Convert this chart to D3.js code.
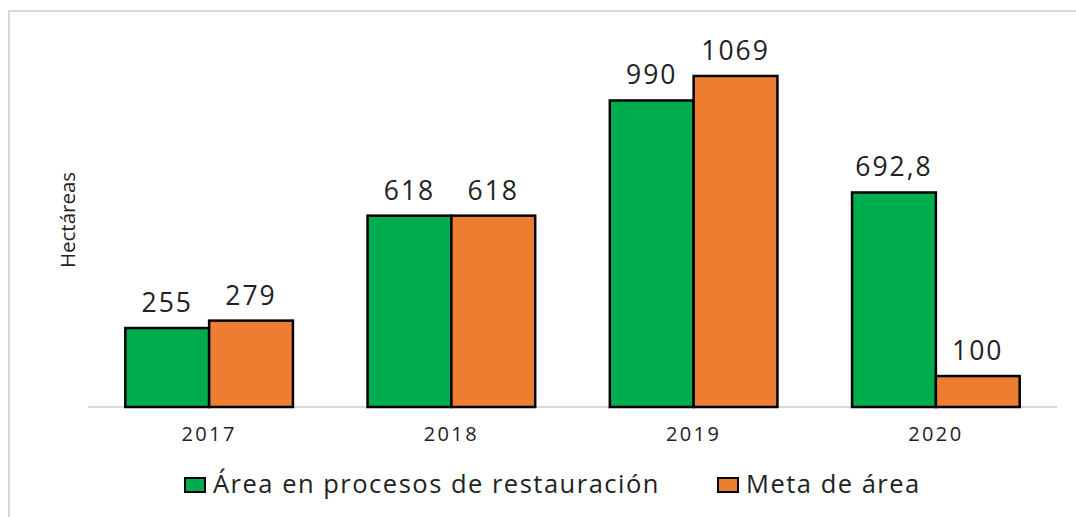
<!DOCTYPE html>
<html>
<head>
<meta charset="utf-8">
<script src="https://cdn.jsdelivr.net/npm/d3@7"></script>
<style>
  body { margin: 0; background: #fff; }
  text { font-family: "Open Sans", sans-serif; fill: #222; }
</style>
</head>
<body>
<div id="chart"></div>
<script>
// data
const years = ["2017", "2018", "2019", "2020"];
const seriesNames = ["Área en procesos de restauración", "Meta de área"];
const restauracion = [255, 618, 990, 692.8];
const meta = [279, 618, 1069, 100];
const colors = ["#00ad4e", "#ed7d31"];

const width = 1076, height = 517;
const svg = d3.select("#chart").append("svg")
    .attr("width", width)
    .attr("height", height);

// light frame (left + top only visible)
svg.append("path")
    .attr("d", `M9,${height} V11 H${width}`)
    .attr("fill", "none")
    .attr("stroke", "#d9d9d9")
    .attr("stroke-width", 2);

const baseY = 407;
const x0 = d3.scaleBand().domain(years).range([88, 1057]).paddingInner(0.308).paddingOuter(0.154);
const x1 = d3.scaleBand().domain([0, 1]).range([0, x0.bandwidth()]);
const y = d3.scaleLinear().domain([0, 1069]).range([baseY, 76]);

const rows = years.map((yr, i) => ({ year: yr, vals: [restauracion[i], meta[i]] }));

// baseline
svg.append("line")
    .attr("x1", 88).attr("x2", 1057)
    .attr("y1", baseY).attr("y2", baseY)
    .attr("stroke", "#d9d9d9").attr("stroke-width", 2);

const groups = svg.selectAll("g.year")
    .data(rows).enter().append("g")
    .attr("class", "year")
    .attr("transform", d => `translate(${x0(d.year)},0)`);

groups.selectAll("rect")
    .data(d => d.vals.map((v, k) => ({ v, k })))
    .enter().append("rect")
    .attr("x", d => x1(d.k))
    .attr("y", d => y(d.v))
    .attr("width", x1.bandwidth())
    .attr("height", d => baseY - y(d.v))
    .attr("fill", d => colors[d.k])
    .attr("stroke", "#000")
    .attr("stroke-width", 2.5);

groups.selectAll("text.val")
    .data(d => d.vals.map((v, k) => ({ v, k })))
    .enter().append("text")
    .attr("class", "val")
    .attr("x", d => x1(d.k) + x1.bandwidth() / 2)
    .attr("y", d => y(d.v) - 16)
    .attr("text-anchor", "middle")
    .attr("font-size", 26.5)
    .attr("letter-spacing", 2)
    .text(d => String(d.v).replace(".", ","));

// x axis labels
svg.selectAll("text.tick")
    .data(years).enter().append("text")
    .attr("class", "tick")
    .attr("x", d => x0(d) + x0.bandwidth() / 2)
    .attr("y", 441)
    .attr("text-anchor", "middle")
    .attr("font-size", 20)
    .attr("letter-spacing", 2.4)
    .text(d => d);

// y title
svg.append("text")
    .attr("transform", "translate(75,220) rotate(-90)")
    .attr("text-anchor", "middle")
    .attr("font-size", 20.5)
    .text("Hectáreas");

// legend
const legendX = [185, 718];
const lg = svg.selectAll("g.legend")
    .data(seriesNames).enter().append("g")
    .attr("class", "legend")
    .attr("transform", (d, i) => `translate(${legendX[i]},478)`);
lg.append("rect")
    .attr("width", 20).attr("height", 14)
    .attr("fill", (d, i) => colors[i])
    .attr("stroke", "#000").attr("stroke-width", 2);
lg.append("text")
    .attr("x", 28).attr("y", 15)
    .attr("font-size", 25.5)
    .attr("letter-spacing", 1.5)
    .text(d => d);
</script>
</body>
</html>
